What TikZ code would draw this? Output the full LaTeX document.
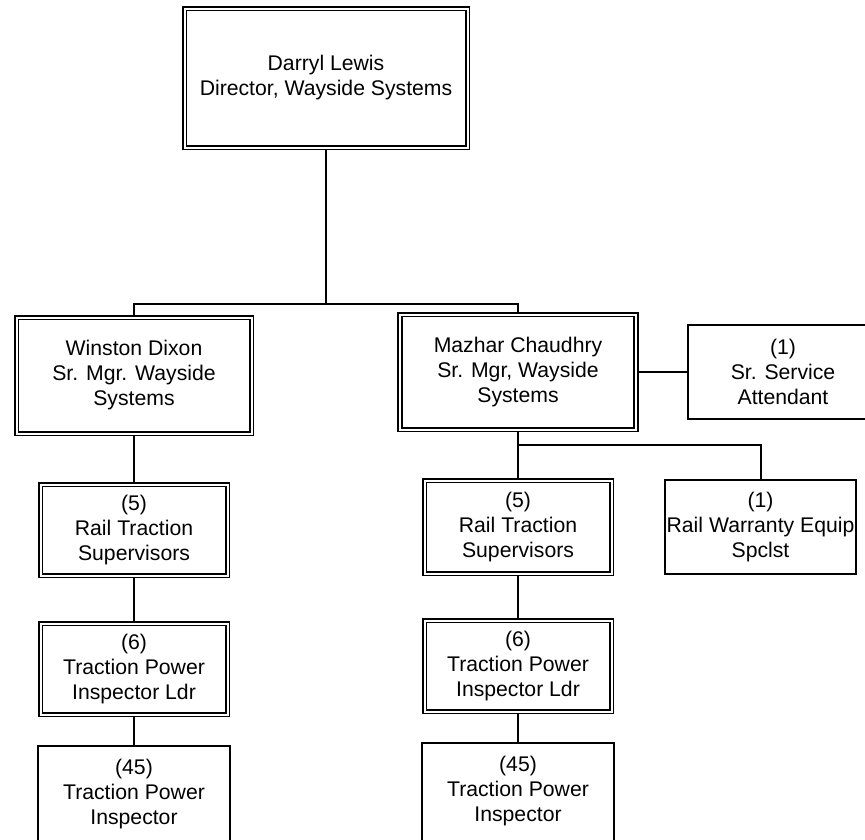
\documentclass[tikz,border=0pt]{standalone}
\usepackage{fontspec}
\setmainfont{Liberation Sans}
\tikzset{
  base/.style={rectangle, inner sep=0pt, align=center,
    font=\fontsize{21.2}{25}\selectfont, fill=white},
  dbox/.style={base, draw, line width=1.7pt, double, double distance=2pt,
    outer sep=1.7pt},
  sbox/.style={base, draw, line width=2pt, outer sep=1pt},
  obox/.style={base, outer sep=1pt},
  link/.style={line width=2pt},
  frame/.style={line width=2pt},
}
\begin{document}
\begin{tikzpicture}[x=1pt, y=-1pt]
\useasboundingbox (0,0) rectangle (865,839);
\clip (0,0) rectangle (865,839);
% nodes (positions in reference pixels)
\node[dbox, minimum width=283pt, minimum height=139pt] (dir) at (326,78)
  {Darryl Lewis\\Director, Wayside Systems};
\node[dbox, minimum width=235pt, minimum height=116pt] (win) at (134,375.5)
  {Winston Dixon\\Sr. Mgr. Wayside\\Systems};
\node[dbox, minimum width=236pt, minimum height=115pt] (maz) at (518,372)
  {Mazhar Chaudhry\\Sr. Mgr, Wayside\\Systems};
\node[sbox, minimum width=190pt, minimum height=94pt] (att) at (783,372)
  {(1)\\Sr. Service\\Attendant};
\node[dbox, minimum width=187pt, minimum height=91pt] (lrts) at (134,530)
  {(5)\\Rail Traction\\Supervisors};
\node[dbox, minimum width=187pt, minimum height=93pt] (rrts) at (518,527)
  {(5)\\Rail Traction\\Supervisors};
\node[sbox, minimum width=191pt, minimum height=94pt] (rwe) at (760.5,527)
  {(1)\\Rail Warranty Equip\\Spclst};
\node[dbox, minimum width=187pt, minimum height=91pt] (ltpl) at (134,669)
  {(6)\\Traction Power\\Inspector Ldr};
\node[dbox, minimum width=187pt, minimum height=91pt] (rtpl) at (518,666)
  {(6)\\Traction Power\\Inspector Ldr};
\node[obox, minimum width=190pt, minimum height=94pt] (ltpi) at (134,794)
  {(45)\\Traction Power\\Inspector};
\node[obox, minimum width=190pt, minimum height=94pt] (rtpi) at (518,791)
  {(45)\\Traction Power\\Inspector};
% frames of the bottom boxes, which run past the lower edge
\draw[frame] ([yshift=-12pt]ltpi.south west) rectangle (ltpi.north east);
\draw[frame] ([yshift=-12pt]rtpi.south west) rectangle (rtpi.north east);
% junctions
\coordinate (j1) at (326,304);
\coordinate (j2) at (518,445);
% connectors
\draw[link] (dir.south) -- (j1);
\draw[link] (win.north) |- (j1) -| (maz.north);
\draw[link] (maz.south) -- (j2);
\draw[link] (rrts.north) -- (j2) -| (rwe.north);
\draw[link] (maz.east) -- (att.west);
\draw[link] (win.south) -- (lrts.north);
\draw[link] (lrts.south) -- (ltpl.north);
\draw[link] (ltpl.south) -- (ltpi.north);
\draw[link] (rrts.south) -- (rtpl.north);
\draw[link] (rtpl.south) -- (rtpi.north);
\end{tikzpicture}
\end{document}
